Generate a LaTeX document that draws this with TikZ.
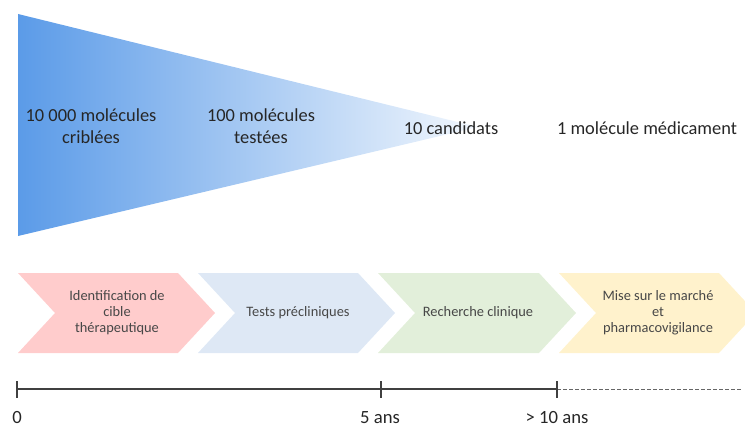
\documentclass[tikz,border=0pt]{standalone}
\usepackage{fontspec}
\setmainfont{Carlito}
\usepackage{tikz}
\definecolor{funnelblue}{HTML}{5B9BE8}
\definecolor{txtgray}{HTML}{262626}
\definecolor{chevpink}{HTML}{FFCCCC}
\definecolor{chevblue}{HTML}{DEE8F5}
\definecolor{chevgreen}{HTML}{E2EFDA}
\definecolor{chevyellow}{HTML}{FFF2CC}
\newcommand{\bigtxt}{\fontsize{13.8}{16.5}\selectfont}
\newcommand{\chevtxt}{\fontsize{10.8}{12}\selectfont}

\begin{document}
\begin{tikzpicture}[x=0.75pt,y=-0.75pt,
   lbl/.style={text=txtgray,align=center,font=\bigtxt},
   ctx/.style={text=txtgray!85,align=center,font=\chevtxt},
   tl/.style={black!75,line width=0.8pt},
   tick/.style={black!75,line width=0.8pt},
   tlab/.style={text=txtgray,font=\fontsize{14}{16}\selectfont}]
  \useasboundingbox (0,0) rectangle (745,428);
  % funnel
  \shade[left color=funnelblue,right color=funnelblue!8] (18,14)--(478,127)--(18,236)--cycle;
  \node[lbl] (crib) at (91,126){10 000 molécules\\criblées};
  \node[lbl] (test) at (261,126){100 molécules\\testées};
  \node[lbl] (cand) at (451,128){10 candidats};
  \node[lbl] (med) at (647,128){1 molécule médicament};
  % chevrons
  \fill[chevpink] (18,273)--(178,273)--(215,313)--(178,353)--(18,353)--(55,313)--cycle;
  \fill[chevblue] (198,273)--(358,273)--(395,313)--(358,353)--(198,353)--(235,313)--cycle;
  \fill[chevgreen] (378,273)--(539,273)--(576,313)--(539,353)--(378,353)--(415,313)--cycle;
  \fill[chevyellow] (559,273)--(719,273)--(756,313)--(719,353)--(559,353)--(596,313)--cycle;
  \node[ctx] (cible) at (117,313){Identification de\\cible\\thérapeutique};
  \node[ctx] (precl) at (298,313){Tests précliniques};
  \node[ctx] (clin) at (478,313){Recherche clinique};
  \node[ctx] (marche) at (658,313){Mise sur le marché\\et\\pharmacovigilance};
  % timeline
  \coordinate (t0) at (17,389);
  \coordinate (t5) at (381,389);
  \coordinate (t10) at (557,389);
  \coordinate (tend) at (741,389);
  \draw[tl] (t0)--(t5)--(t10);
  \draw[black!60,dash pattern=on 3pt off 1.5pt,line width=0.6pt] (t10)--(tend);
  \foreach \t in {t0,t5,t10}{\draw[tick] ([yshift=6pt]\t)--([yshift=-6.75pt]\t);}
  \node[tlab] (l0) at (17,418){0};
  \node[tlab] (l5) at (380,418){5 ans};
  \node[tlab] (l10) at (557,418){> 10 ans};
\end{tikzpicture}
\end{document}
